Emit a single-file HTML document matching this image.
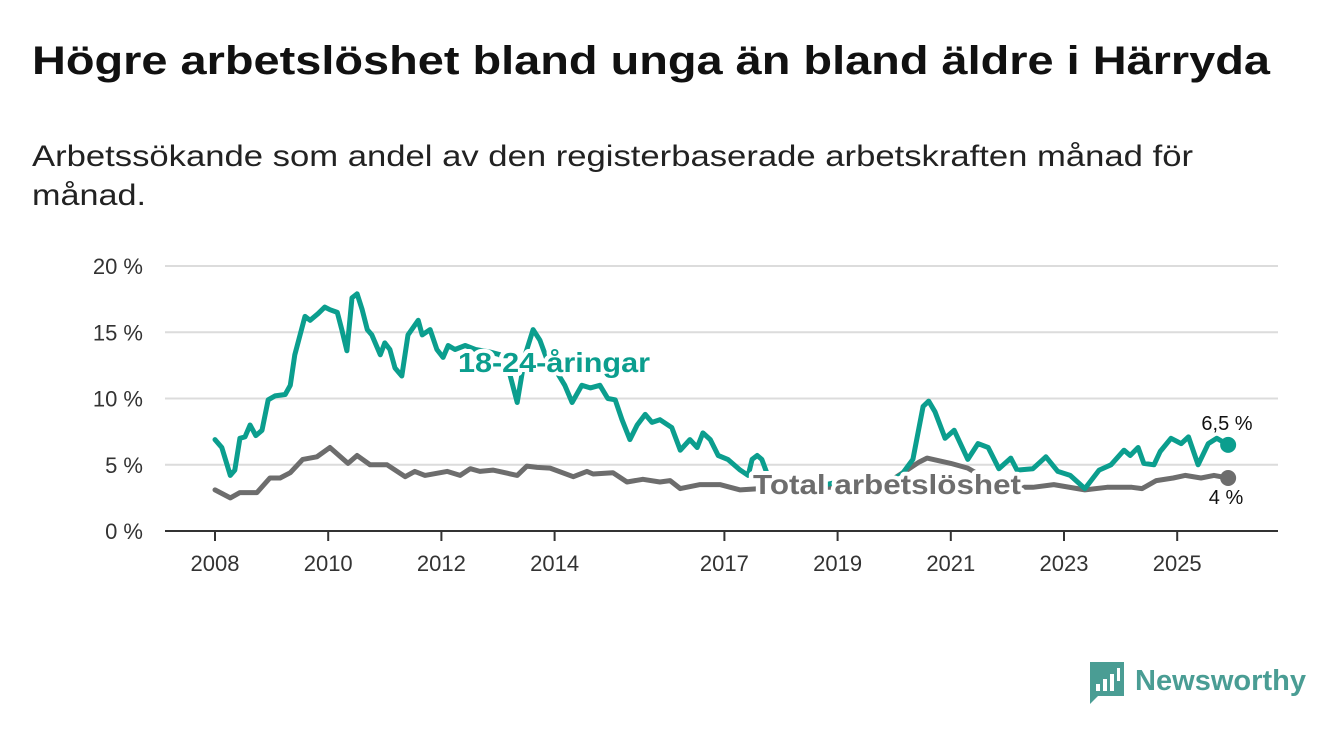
<!DOCTYPE html>
<html><head><meta charset="utf-8">
<style>
body{margin:0;background:#fff;width:1340px;height:734px;overflow:hidden;font-family:"Liberation Sans",sans-serif;}
</style></head>
<body>
<svg width="1340" height="734" viewBox="0 0 1340 734" xmlns="http://www.w3.org/2000/svg">
<text x="32" y="74" font-size="40" font-weight="bold" fill="#111" textLength="1238" lengthAdjust="spacingAndGlyphs">Högre arbetslöshet bland unga än bland äldre i Härryda</text>
<text x="32" y="166" font-size="30" fill="#222" textLength="1161" lengthAdjust="spacingAndGlyphs">Arbetssökande som andel av den registerbaserade arbetskraften månad för</text>
<text x="32" y="205" font-size="30" fill="#222" textLength="114" lengthAdjust="spacingAndGlyphs">månad.</text>
<g id="grid"></g>
<g id="series"></g>
<g id="labels"></g>
<g>
<path d="M1090 662 h34 v34 h-26 l-8 8 z" fill="#4a9d94"/>
<rect x="1096" y="684" width="4" height="7" fill="#fff"/>
<rect x="1103" y="679" width="4" height="12" fill="#fff"/>
<rect x="1110" y="674" width="4" height="17" fill="#fff"/>
<rect x="1117" y="668" width="3" height="13" fill="#fff"/>
<text x="1135" y="690" font-size="29" font-weight="bold" fill="#4a9d94" textLength="171" lengthAdjust="spacingAndGlyphs">Newsworthy</text>
</g>
</svg>
<script>
const tealYears=[2008.0,2008.12,2008.27,2008.35,2008.44,2008.53,2008.62,2008.72,2008.83,2008.94,2009.06,2009.24,2009.33,2009.41,2009.59,2009.68,2009.82,2009.94,2010.03,2010.16,2010.24,2010.33,2010.42,2010.51,2010.6,2010.69,2010.77,2010.92,2011.0,2011.09,2011.18,2011.3,2011.41,2011.59,2011.66,2011.8,2011.92,2012.03,2012.12,2012.24,2012.42,2012.6,2012.86,2013.04,2013.21,2013.34,2013.48,2013.62,2013.74,2013.87,2014.01,2014.18,2014.31,2014.48,2014.63,2014.8,2014.94,2015.07,2015.19,2015.33,2015.46,2015.6,2015.72,2015.86,2016.07,2016.22,2016.39,2016.52,2016.62,2016.75,2016.89,2017.06,2017.28,2017.42,2017.49,2017.58,2017.66,2017.8,2018.0,2018.3,2018.55,2018.8,2019.0,2019.3,2019.6,2019.78,2020.14,2020.33,2020.51,2020.61,2020.72,2020.9,2021.06,2021.3,2021.48,2021.66,2021.85,2022.06,2022.17,2022.45,2022.68,2022.89,2023.11,2023.37,2023.62,2023.83,2024.06,2024.17,2024.31,2024.41,2024.59,2024.7,2024.89,2025.07,2025.2,2025.37,2025.55,2025.7,2025.9];
const tealValues=[6.9,6.3,4.2,4.6,7.0,7.1,8.0,7.2,7.6,9.9,10.2,10.3,11.0,13.3,16.2,15.9,16.4,16.9,16.7,16.5,15.2,13.6,17.6,17.9,16.7,15.2,14.8,13.3,14.2,13.7,12.3,11.7,14.8,15.9,14.8,15.2,13.7,13.1,14.0,13.7,14.0,13.7,13.5,13.3,11.8,9.7,13.3,15.2,14.4,12.9,12.2,11.0,9.7,11.0,10.8,11.0,10.0,9.9,8.4,6.9,8.0,8.8,8.2,8.4,7.8,6.1,6.9,6.3,7.4,6.9,5.7,5.4,4.6,4.2,5.4,5.7,5.4,3.8,3.6,3.7,3.9,3.5,3.7,3.5,3.6,3.3,4.3,5.4,9.4,9.8,9.0,7.0,7.6,5.4,6.6,6.3,4.7,5.5,4.6,4.7,5.6,4.5,4.2,3.2,4.6,5.0,6.1,5.7,6.3,5.1,5.0,6.0,7.0,6.6,7.1,5.0,6.6,7.0,6.5];
const grayYears=[2008.0,2008.27,2008.44,2008.74,2008.97,2009.15,2009.33,2009.55,2009.8,2010.03,2010.35,2010.51,2010.74,2011.04,2011.36,2011.53,2011.71,2012.1,2012.33,2012.51,2012.68,2012.91,2013.34,2013.51,2013.69,2013.92,2014.33,2014.57,2014.68,2015.03,2015.28,2015.56,2015.86,2016.04,2016.22,2016.57,2016.92,2017.28,2017.63,2018.0,2018.5,2019.0,2019.5,2019.9,2020.19,2020.44,2020.58,2021.0,2021.3,2021.6,2021.9,2022.2,2022.45,2022.82,2023.37,2023.76,2024.2,2024.38,2024.63,2024.93,2025.14,2025.42,2025.65,2025.9];
const grayValues=[3.1,2.5,2.9,2.9,4.0,4.0,4.4,5.4,5.6,6.3,5.1,5.7,5.0,5.0,4.1,4.5,4.2,4.5,4.2,4.7,4.5,4.6,4.2,4.9,4.8,4.75,4.1,4.5,4.3,4.4,3.7,3.9,3.7,3.8,3.2,3.5,3.5,3.1,3.2,3.4,3.3,3.3,3.5,3.7,4.5,5.2,5.5,5.1,4.75,4.0,3.5,3.3,3.3,3.5,3.1,3.3,3.3,3.2,3.8,4.0,4.2,4.0,4.2,4.0];
const yTicks=[0,5,10,15,20];
const yTickLabels=["0 %","5 %","10 %","15 %","20 %"];
const xTicks=[2008,2010,2012,2014,2017,2019,2021,2023,2025];

const NS="http://www.w3.org/2000/svg";
const X0=165,X1=1278,Y0=531;
function xs(yr){return 215+(yr-2008)*56.6;}
function ys(v){return Y0-v*13.25;}
function mk(tag,attrs,parent){const e=document.createElementNS(NS,tag);for(const k in attrs)e.setAttribute(k,attrs[k]);parent.appendChild(e);return e;}
const grid=document.getElementById('grid');
yTicks.forEach((t,i)=>{
  if(t>0){const l=mk('line',{x1:X0,x2:X1,y1:ys(t),y2:ys(t),stroke:'#dcdcdc','stroke-width':2},grid);
  
  }
  const tx=mk('text',{x:143,y:ys(t)+8,'font-size':22,fill:'#333','text-anchor':'end'},grid);
  tx.textContent=yTickLabels[i];
  
  
});
const ax=mk('line',{x1:X0,x2:X1,y1:Y0,y2:Y0,stroke:'#333','stroke-width':2},grid);


xTicks.forEach(t=>{
  const tk=mk('line',{x1:xs(t),x2:xs(t),y1:Y0,y2:Y0+10,stroke:'#333','stroke-width':2},grid);
  
  
  const tx=mk('text',{x:xs(t),y:Y0+40,'font-size':22,fill:'#333','text-anchor':'middle'},grid);
  tx.textContent=t;
  
  
});
const ser=document.getElementById('series');
function line(years,vals,color,name){
  const d=years.map((y,i)=>(i?'L':'M')+xs(y).toFixed(1)+' '+ys(vals[i]).toFixed(1)).join(' ');
  const p=mk('path',{d:d,fill:'none',stroke:color,'stroke-width':5,'stroke-linejoin':'round','stroke-linecap':'round'},ser);
  
  
  const n=years.length-1;
  const c=mk('circle',{cx:xs(years[n]),cy:ys(vals[n]),r:8,fill:color},ser);
  
  
}
line(grayYears,grayValues,'#6d6d6d','total');
line(tealYears,tealValues,'#0b9e8e','youth');
const lab=document.getElementById('labels');
function label(x,y,txt,color,size,bold,name,anchor,len){
  const a={x:x,y:y,'font-size':size,fill:color,'font-weight':bold?'bold':'normal',stroke:'#fff','stroke-width':bold?8:5,'paint-order':'stroke','stroke-linejoin':'round','text-anchor':anchor||'start'};
  if(len){a.textLength=len;a.lengthAdjust='spacingAndGlyphs';}
  const t=mk('text',a,lab);
  t.textContent=txt;
  
  
}
label(458,372,'18-24-åringar','#0b9e8e',28,true,'youth-series-label',null,192);
label(753,494,'Total arbetslöshet','#6d6d6d',28,true,'total-series-label',null,268);
label(1227,430,'6,5 %','#111',20,false,'youth-end-value','middle');
label(1226,504,'4 %','#111',20,false,'total-end-value','middle');
</script>
</body></html>
